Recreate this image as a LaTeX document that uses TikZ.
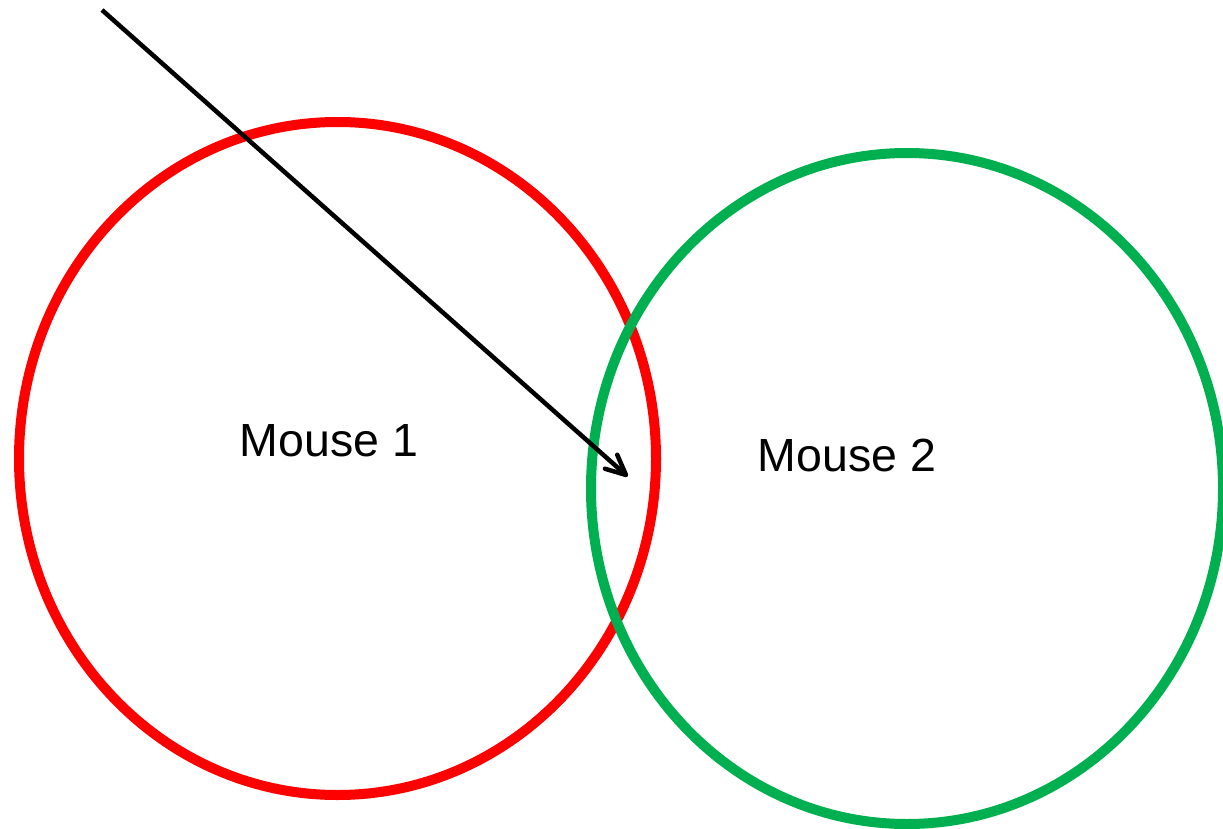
\documentclass[tikz,border=0pt]{standalone}
\usepackage{fontspec}
\setmainfont{Liberation Sans}
\usetikzlibrary{calc}
\definecolor{mred}{HTML}{FF0000}
\definecolor{mgreen}{HTML}{00B050}
\tikzset{
  mouse/.style={draw=#1, line width=10pt},
  label/.style={font=\fontsize{46.5}{50}\selectfont, inner sep=0pt, text=black},
  pointer/.style={draw=black, line width=4.5pt, line join=round},
  barb/.style={draw=black, line width=4.5pt, line cap=round, line join=round}
}
\begin{document}
\begin{tikzpicture}[x=1pt, y=-1pt]
  \useasboundingbox (0,0) rectangle (1223,829);
  % two overlapping home ranges
  \draw[mouse=mred] (337.5,458.5) ellipse [x radius=318.5, y radius=336.5];
  \draw[mouse=mgreen] (907,488.5) ellipse [x radius=316, y radius=335.5];
  \node[label, anchor=base] (m1) at (329,456) {Mouse 1};
  \node[label, anchor=base] (m2) at (847,471) {Mouse 2};
  % movement track with an open chevron head
  \coordinate (start) at (102,10);
  \coordinate (tip) at (626,475);
  \draw[pointer] (start) -- ($(tip)!2pt!(start)$);
  \draw[barb] ($(tip)!22pt!25:(start)$) -- (tip) -- ($(tip)!22pt!-25:(start)$);
\end{tikzpicture}
\end{document}
